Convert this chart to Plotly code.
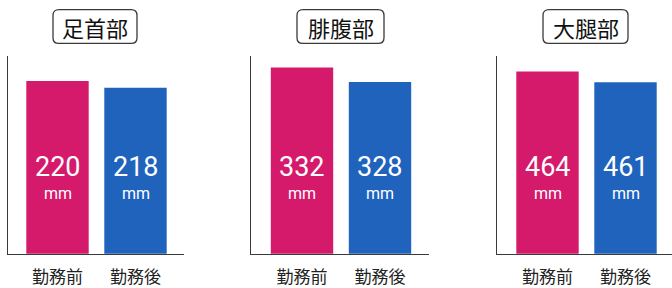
import plotly.graph_objects as go

W, H = 672, 288

panels = ["足首部", "腓腹部", "大腿部"]
categories = ["勤務前", "勤務後"]
before = [220, 332, 464]
after = [218, 328, 461]
unit = "mm"

colors = ["#D51A6C", "#1F63BD"]
y_ranges = [[168.8, 227.4], [280.5, 335.2], [412.5, 468.4]]

# layout geometry (pixels)
dom_px = [(8, 184), (251, 429), (497, 672)]
first_center_px = [57.5, 302, 547.5]
step_px = 78.0
plot_top_px, plot_bottom_px = 58, 263
title_box_px = [(53, 137), (297, 384), (543, 628)]
title_y_px = (10, 45)

FONT = "Noto Sans CJK JP, Noto Sans, sans-serif"
NUM_FONT = "Roboto, Noto Sans, sans-serif"

def px(x):
    return x / W

def py(y):
    return (H - y) / H

fig = go.Figure()
shapes = []
annotations = []

for i, name in enumerate(panels):
    ax = "" if i == 0 else str(i + 1)
    xa, ya = "x" + ax, "y" + ax
    vals = [before[i], after[i]]
    fig.add_trace(go.Bar(
        x=categories, y=vals, xaxis=xa, yaxis=ya,
        marker=dict(color=colors, line=dict(width=0)),
        width=0.8, showlegend=False, hoverinfo="x+y",
    ))
    l, r = dom_px[i]
    c0 = first_center_px[i]
    xr = [-(c0 - l) / step_px, (r - c0) / step_px]
    fig.layout["xaxis" + ax] = dict(
        domain=[px(l), px(r)], range=xr, type="category",
        showline=True, linecolor="#3a3a3a", linewidth=1.3,
        ticks="", showgrid=False, zeroline=False, anchor=ya,
        tickfont=dict(family=FONT, size=17, color="#222"),
        ticklabelstandoff=8,
    )
    fig.layout["yaxis" + ax] = dict(
        domain=[py(plot_bottom_px), py(plot_top_px)], range=y_ranges[i],
        showline=True, linecolor="#3a3a3a", linewidth=1.3,
        showticklabels=False, ticks="", showgrid=False, zeroline=False,
        anchor=xa,
    )
    for j, v in enumerate(vals):
        annotations.append(dict(
            x=categories[j], y=py(173), xref=xa, yref="paper",
            xanchor="center", yanchor="middle", borderpad=0,
            text=str(v), showarrow=False,
            font=dict(family=NUM_FONT, size=27, color="white"),
        ))
        annotations.append(dict(
            x=categories[j], y=py(200), xref=xa, yref="paper",
            xanchor="center", yanchor="middle", borderpad=0,
            text=unit, showarrow=False,
            font=dict(family=NUM_FONT, size=16, color="white"),
        ))
    # rounded title box
    bl, br = title_box_px[i]
    bt, bb = title_y_px
    rr = 6
    path = (
        f"M {px(bl+rr)} {py(bt)} L {px(br-rr)} {py(bt)} "
        f"Q {px(br)} {py(bt)} {px(br)} {py(bt+rr)} "
        f"L {px(br)} {py(bb-rr)} Q {px(br)} {py(bb)} {px(br-rr)} {py(bb)} "
        f"L {px(bl+rr)} {py(bb)} Q {px(bl)} {py(bb)} {px(bl)} {py(bb-rr)} "
        f"L {px(bl)} {py(bt+rr)} Q {px(bl)} {py(bt)} {px(bl+rr)} {py(bt)} Z"
    )
    shapes.append(dict(type="path", xref="paper", yref="paper", path=path,
                       line=dict(color="#3a3a3a", width=1.3), fillcolor="white"))
    annotations.append(dict(
        x=px((bl + br) / 2), y=py((bt + bb) / 2), xref="paper", yref="paper",
        xanchor="center", yanchor="middle",
        text=name, showarrow=False,
        font=dict(family=FONT, size=22, color="#111"),
    ))

fig.update_layout(
    width=W, height=H, margin=dict(l=0, r=0, t=0, b=0),
    paper_bgcolor="white", plot_bgcolor="white",
    shapes=shapes, annotations=annotations, bargap=0.2,
)

fig.write_html("out.html", config={"displayModeBar": False},
               post_script="document.body.style.margin='0px';")
